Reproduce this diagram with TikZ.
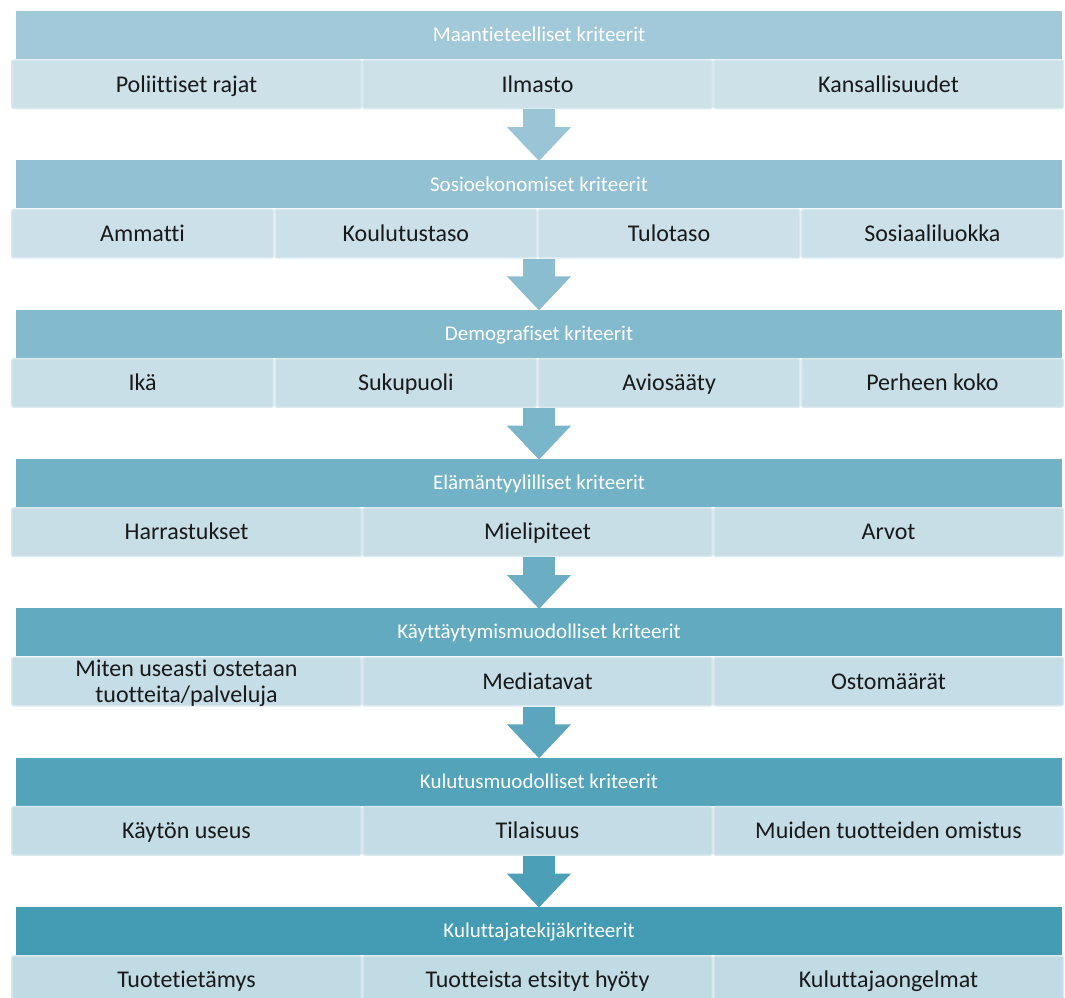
\documentclass[tikz,border=0pt]{standalone}
\usepackage{fontspec}
\setmainfont{Carlito}[Ligatures=NoCommon]
\usetikzlibrary{positioning,arrows.meta}

\definecolor{topbar}{HTML}{A2C9D9}
\definecolor{lowbar}{HTML}{439BB4}
\definecolor{topcell}{HTML}{CDE1E9}
\definecolor{lowcell}{HTML}{C1DBE4}
\definecolor{cellline}{HTML}{D9E9EF}
\colorlet{bar1}{topbar}
\colorlet{bar2}{lowbar!17!topbar}
\colorlet{bar3}{lowbar!33!topbar}
\colorlet{bar4}{lowbar!50!topbar}
\colorlet{bar5}{lowbar!67!topbar}
\colorlet{bar6}{lowbar!83!topbar}
\colorlet{bar7}{lowbar}
\colorlet{arr1}{lowbar!8!topbar}
\colorlet{arr2}{lowbar!25!topbar}
\colorlet{arr3}{lowbar!42!topbar}
\colorlet{arr4}{lowbar!58!topbar}
\colorlet{arr5}{lowbar!75!topbar}
\colorlet{arr6}{lowbar!92!topbar}
\colorlet{cell1}{topcell}
\colorlet{cell2}{lowcell!17!topcell}
\colorlet{cell3}{lowcell!33!topcell}
\colorlet{cell4}{lowcell!50!topcell}
\colorlet{cell5}{lowcell!67!topcell}
\colorlet{cell6}{lowcell!83!topcell}
\colorlet{cell7}{lowcell}

\tikzset{
  header/.style={fill=#1, minimum width=1046pt, minimum height=48pt, inner sep=0pt,
    text=white, text height=13.5pt, text depth=0pt, font=\fontsize{21}{25}\selectfont},
  cellthree/.style={fill=#1, draw=cellline, line width=1.5pt, rounded corners=2pt,
    minimum width=349.5pt, minimum height=48.5pt, inner sep=0pt, align=center,
    text height=15.5pt, text depth=0pt,
    text=black!90, font=\fontsize{24}{26}\selectfont},
  cellfour/.style={cellthree=#1, minimum width=261.75pt},
  blockarrow/.style={color=#1, line width=32pt, -{Triangle[width=62pt,length=34pt]}}
}

\begin{document}
\begin{tikzpicture}[x=1pt, y=-1pt]
\useasboundingbox (0,0) rectangle (1065,997);

\node[header=bar1] (h1) at (539,35) {Maantieteelliset kriteerit};
\node[cellthree=cell1] (r1a) at (186.5,84.3) {Poliittiset rajat};
\node[cellthree=cell1] (r1b) at (537.5,84.3) {Ilmasto};
\node[cellthree=cell1] (r1c) at (888.5,84.3) {Kansallisuudet};

\node[header=bar2] (h2) at (539,184.3) {Sosioekonomiset kriteerit};
\node[cellfour=cell2] (r2a) at (142.6,233.6) {Ammatti};
\node[cellfour=cell2] (r2b) at (405.9,233.6) {Koulutustaso};
\node[cellfour=cell2] (r2c) at (669.1,233.6) {Tulotaso};
\node[cellfour=cell2] (r2d) at (932.4,233.6) {Sosiaaliluokka};

\node[header=bar3] (h3) at (539,333.6) {Demografiset kriteerit};
\node[cellfour=cell3] (r3a) at (142.6,382.9) {Ikä};
\node[cellfour=cell3] (r3b) at (405.9,382.9) {Sukupuoli};
\node[cellfour=cell3] (r3c) at (669.1,382.9) {Aviosääty};
\node[cellfour=cell3] (r3d) at (932.4,382.9) {Perheen koko};

\node[header=bar4] (h4) at (539,482.9) {Elämäntyylilliset kriteerit};
\node[cellthree=cell4] (r4a) at (186.5,532.2) {Harrastukset};
\node[cellthree=cell4] (r4b) at (537.5,532.2) {Mielipiteet};
\node[cellthree=cell4] (r4c) at (888.5,532.2) {Arvot};

\node[header=bar5] (h5) at (539,632.2) {Käyttäytymismuodolliset kriteerit};
\node[cellthree=cell5, text height=41pt] (r5a) at (186.5,681.5) {Miten useasti ostetaan\\tuotteita/palveluja};
\node[cellthree=cell5] (r5b) at (537.5,681.5) {Mediatavat};
\node[cellthree=cell5] (r5c) at (888.5,681.5) {Ostomäärät};

\node[header=bar6] (h6) at (539,781.5) {Kulutusmuodolliset kriteerit};
\node[cellthree=cell6] (r6a) at (186.5,830.8) {Käytön useus};
\node[cellthree=cell6] (r6b) at (537.5,830.8) {Tilaisuus};
\node[cellthree=cell6] (r6c) at (888.5,830.8) {Muiden tuotteiden omistus};

\node[header=bar7] (h7) at (539,930.8) {Kuluttajatekijäkriteerit};
\node[cellthree=cell7] (r7a) at (186.5,980.1) {Tuotetietämys};
\node[cellthree=cell7] (r7b) at (537.5,980.1) {Tuotteista etsityt hyöty};
\node[cellthree=cell7] (r7c) at (888.5,980.1) {Kuluttajaongelmat};

% block arrows between the rows
\draw[blockarrow=arr1] (h1.south |- r1a.south) -- ([yshift=-1pt]h2.north);
\draw[blockarrow=arr2] (h2.south |- r2a.south) -- ([yshift=-1pt]h3.north);
\draw[blockarrow=arr3] (h3.south |- r3a.south) -- ([yshift=-1pt]h4.north);
\draw[blockarrow=arr4] (h4.south |- r4a.south) -- ([yshift=-1pt]h5.north);
\draw[blockarrow=arr5] (h5.south |- r5a.south) -- ([yshift=-1pt]h6.north);
\draw[blockarrow=arr6] (h6.south |- r6a.south) -- ([yshift=-1pt]h7.north);
\end{tikzpicture}
\end{document}
